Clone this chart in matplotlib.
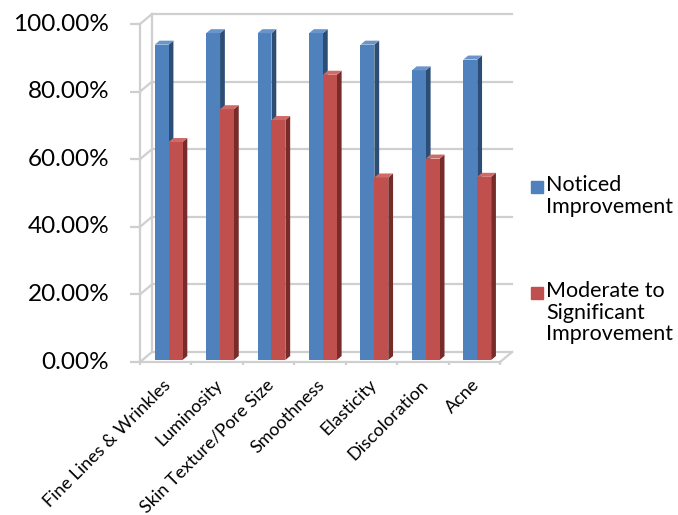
import matplotlib
matplotlib.use("Agg")
from matplotlib import pyplot as plt
from matplotlib.patches import Polygon, Rectangle
import numpy as np

plt.rcParams['font.family'] = ['Lato', 'DejaVu Sans']

categories = ["Fine Lines & Wrinkles", "Luminosity", "Skin Texture/Pore Size",
              "Smoothness", "Elasticity", "Discoloration", "Acne"]
noticed = [93.3, 96.7, 96.7, 96.7, 93.3, 85.7, 88.9]
moderate = [64.5, 74.2, 71.0, 84.4, 54.0, 59.6, 54.2]
series_names = ["Noticed\nImprovement", "Moderate to\nSignificant\nImprovement"]
y_ticks = [0, 20, 40, 60, 80, 100]

# face colours: front, side, top
BLUE = ("#4f81bd", "#2c4d75", "#6a95cc")
RED = ("#c0504d", "#772c2a", "#cf6a67")
GRID = "#cfcfcf"

# depth of the 3d box in data units, and where the bars sit inside it
DX, DY = 0.233, 2.96
F0, F1 = 0.2, 0.6
W = 0.27

fig = plt.figure(figsize=(6.78, 5.15), dpi=100)
ax = fig.add_axes([0.1913, 0.2905, 0.5766, 0.6891])
ax.set_xlim(-0.2, 7.4)
ax.set_ylim(-1, 104)
ax.axis("off")

n = len(categories)

# back wall and side wall grid
for v in y_ticks:
    ax.plot([DX, n + DX], [v + DY, v + DY], color=GRID, lw=1.6, zorder=1)
    ax.plot([0, DX], [v, v + DY], color=GRID, lw=1.6, zorder=1)
    ax.plot([-0.19, 0], [v, v], color=GRID, lw=1.6, zorder=1)
    ax.text(-0.6, v, "{:.2f}%".format(v), ha="right", va="center", fontsize=17.5)
ax.plot([DX, DX], [DY, 100 + DY], color=GRID, lw=1.6, zorder=1)
ax.plot([0, 0], [0, 100], color=GRID, lw=1.6, zorder=1)

# floor
ax.plot([0, n], [0, 0], color=GRID, lw=1.6, zorder=1)
ax.plot([n, n + DX], [0, DY], color=GRID, lw=1.6, zorder=1)
for k in range(n + 1):
    ax.plot([k, k], [0, -1.8], color=GRID, lw=1.6, zorder=1)


def bar3d(x, v, colors):
    front, side, top = colors
    ax.bar(x + F0 * DX, v, width=W, bottom=F0 * DY, align="edge",
           color=front, edgecolor="none", zorder=3)
    xr = x + W
    ax.add_patch(Polygon([(xr + F0 * DX, F0 * DY), (xr + F0 * DX, v + F0 * DY),
                          (xr + F1 * DX, v + F1 * DY), (xr + F1 * DX, F1 * DY)],
                         closed=True, color=side, lw=0, zorder=2))
    ax.add_patch(Polygon([(x + F0 * DX, v + F0 * DY), (xr + F0 * DX, v + F0 * DY),
                          (xr + F1 * DX, v + F1 * DY), (x + F1 * DX, v + F1 * DY)],
                         closed=True, color=top, lw=0, zorder=3))


for k in range(n):
    left = k + 0.51 - W
    bar3d(left, noticed[k], BLUE)
    bar3d(left + W, moderate[k], RED)
    ax.text(k + 0.55, -6, categories[k], rotation=45, ha="right", va="center",
            rotation_mode="anchor", fontsize=13)

# legend
for i, (name, col) in enumerate(zip(series_names, [BLUE[0], RED[0]])):
    ytop = [181, 287][i]
    fig.patches.append(Rectangle((531 / 678, 1 - (ytop + 12) / 515), 12 / 678, 12 / 515,
                                 transform=fig.transFigure, color=col))
    fig.text(546 / 678, 1 - (ytop - 6) / 515, name, ha="left", va="top",
             fontsize=15.5, linespacing=1.1)

fig.savefig("out.png", dpi=100)
